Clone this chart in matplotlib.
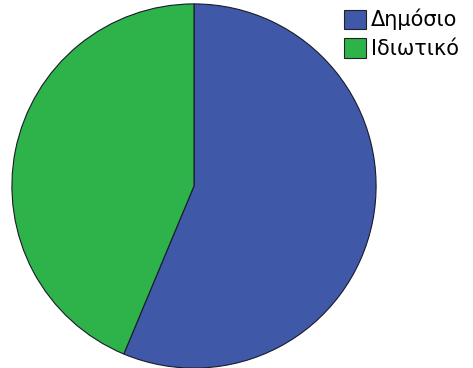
import matplotlib.pyplot as plt
from matplotlib.patches import Patch

labels = ["Δημόσιο", "Ιδιωτικό"]
shares = [56.3, 43.7]
colors = ["#3F58A8", "#2DB34A"]

W, H = 473, 368
fig = plt.figure(figsize=(W / 100, H / 100), dpi=100)

# pie centre (194, 186) px, radius 183 px
cx, cy, r = 194, 186, 183
ax = fig.add_axes([(cx - r) / W, (H - cy - r) / H, 2 * r / W, 2 * r / H])
ax.pie(shares, colors=colors, startangle=90, counterclock=False, radius=1,
       wedgeprops=dict(edgecolor="#1a1a2a", linewidth=0.8))
ax.set_xlim(-1.005, 1.005)
ax.set_ylim(-1.005, 1.005)
ax.set_axis_off()

handles = [Patch(facecolor=c, edgecolor="#222222", linewidth=0.8) for c in colors]
fig.legend(handles, labels, loc="upper left", bbox_to_anchor=(344 / W, 1 - 9 / H),
           frameon=False, fontsize=15, handlelength=1.06, handleheight=1.06,
           handletextpad=0.25, labelspacing=0.38, borderpad=0, borderaxespad=0)

fig.savefig("out.png", dpi=100)
